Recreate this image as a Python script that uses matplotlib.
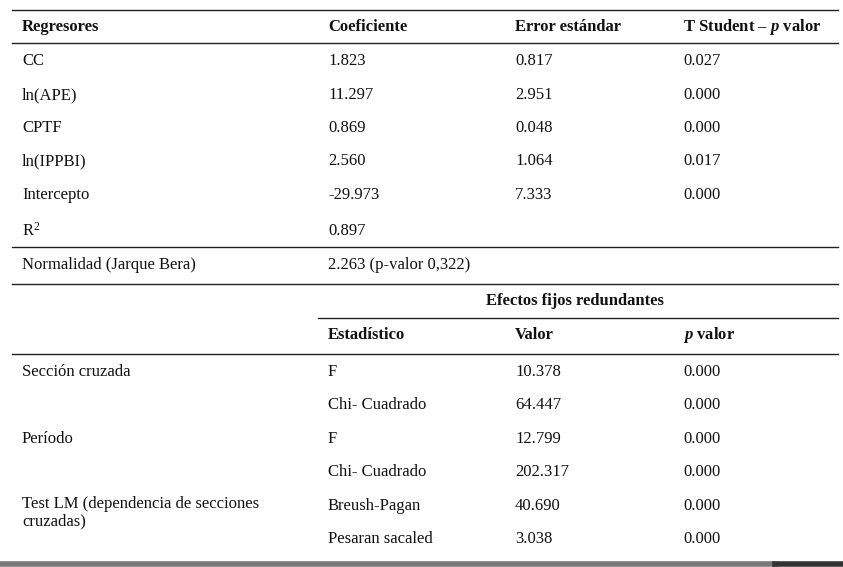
import matplotlib
matplotlib.use("Agg")
import matplotlib.pyplot as plt

plt.rcParams["mathtext.fontset"] = "custom"
plt.rcParams["mathtext.rm"] = "Liberation Serif"
plt.rcParams["mathtext.it"] = "Liberation Serif:italic:bold"
plt.rcParams["mathtext.bf"] = "Liberation Serif:bold"

header = ["Regresores", "Coeficiente", "Error estándar", "T Student – $\\it{p}$ valor"]
regresores = ["CC", "ln(APE)", "CPTF", "ln(IPPBI)", "Intercepto", "R$^{2}$"]
coef = ["1.823", "11.297", "0.869", "2.560", "-29.973", "0.897"]
err = ["0.817", "2.951", "0.048", "1.064", "7.333", ""]
pval = ["0.027", "0.000", "0.000", "0.017", "0.000", ""]
norm_label = "Normalidad (Jarque Bera)"
norm_value = "2.263 (p-valor 0,322)"
ef_title = "Efectos fijos redundantes"
ef_header = ["Estadístico", "Valor", "$\\it{p}$ valor"]
ef_groups = ["Sección cruzada", "Período", "Test LM (dependencia de secciones\ncruzadas)"]
ef_stat = ["F", "Chi- Cuadrado", "F", "Chi- Cuadrado", "Breush-Pagan", "Pesaran sacaled"]
ef_val = ["10.378", "64.447", "12.799", "202.317", "40.690", "3.038"]
ef_p = ["0.000"] * 6

W, H = 843, 567
fig = plt.figure(figsize=(W/100, H/100), dpi=100)
ax = fig.add_axes([0, 0, 1, 1])
ax.set_xlim(0, W); ax.set_ylim(H, 0); ax.axis("off")
FONT = "Liberation Serif"
FS = 12
cols = [22, 328, 515, 683]

def t(x, y, s, bold=False, ha="left"):
    ax.text(x, y, s, fontsize=FS, family=FONT, fontweight="bold" if bold else "normal",
            va="center", ha=ha, color="#111111")

def hl(y, x0=12, x1=838, lw=1.0):
    ax.plot([x0, x1], [y, y], color="#222222", lw=lw)

hl(10); hl(43); hl(247); hl(284); hl(318, 318, 838); hl(354)
ax.plot([0, 775], [564, 564], color="#777777", lw=4)
ax.plot([775, 843], [564, 564], color="#333333", lw=4)

for c, h in zip(cols, header):
    t(c, 27, h, bold=True)
rows_y = [61, 95, 128, 161, 195, 231]
for i, y in enumerate(rows_y):
    t(cols[0], y, regresores[i])
    t(cols[1], y, coef[i]); t(cols[2], y, err[i]); t(cols[3], y, pval[i])
t(cols[0], 265, norm_label); t(cols[1], 265, norm_value)
t(575, 301, ef_title, bold=True, ha="center")
for c, h in zip(cols[1:], ef_header):
    t(c, 335, h, bold=True)
ef_y = [372, 405, 439, 472, 506, 539]
for i, y in enumerate(ef_y):
    t(cols[1], y, ef_stat[i]); t(cols[2], y, ef_val[i]); t(cols[3], y, ef_p[i])
t(cols[0], 372, ef_groups[0]); t(cols[0], 439, ef_groups[1])
ax.text(cols[0], 506 - 10, ef_groups[2], fontsize=FS, family=FONT, va="top", ha="left",
        color="#111111", linespacing=1.1)
fig.savefig("out.png", dpi=100)
